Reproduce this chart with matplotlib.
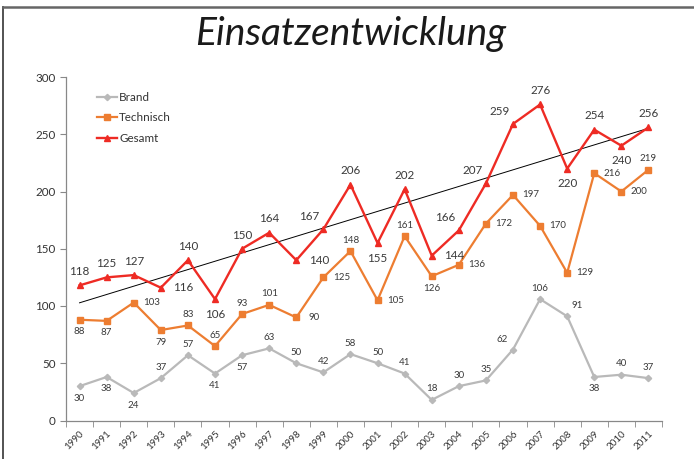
import matplotlib
matplotlib.use("Agg")
import matplotlib.pyplot as plt
import numpy as np
from matplotlib.lines import Line2D

plt.rcParams['font.family'] = ['Lato', 'DejaVu Sans']

years = [str(y) for y in range(1990, 2012)]
brand = [30, 38, 24, 37, 57, 41, 57, 63, 50, 42, 58, 50, 41, 18, 30, 35, 62, 106, 91, 38, 40, 37]
technisch = [88, 87, 103, 79, 83, 65, 93, 101, 90, 125, 148, 105, 161, 126, 136, 172, 197, 170, 129, 216, 200, 219]
gesamt = [118, 125, 127, 116, 140, 106, 150, 164, 140, 167, 206, 155, 202, 144, 166, 207, 259, 276, 220, 254, 240, 256]

# label placement codes (a=above, b=below, r=right, l=above-left, q=above-right)
pos_g = ['a', 'a', 'a', 'r', 'a', 'b', 'a', 'a', 'r', 'l', 'a', 'b', 'a', 'r', 'l', 'l', 'l', 'a', 'b', 'a', 'b', 'a']
pos_t = ['b', 'b', 'r', 'b', 'a', 'a', 'a', 'a', 'r', 'r', 'a', 'r', 'a', 'b', 'r', 'r', 'r', 'r', 'r', 'r', 'r', 'a']
pos_b = ['b', 'b', 'b', 'a', 'a', 'b', 'b', 'a', 'a', 'a', 'a', 'a', 'a', 'a', 'a', 'a', 'l', 'a', 'q', 'b', 'a', 'a']

c_brand = '#b9b9b9'
c_tech = '#ed7d31'
c_ges = '#ee2b24'

fig = plt.figure(figsize=(6.94, 4.59), dpi=100)
ax = fig.add_axes([66/694, 1-420.5/459, (662-66)/694, (420.5-77)/459])

x = np.arange(len(years))
ax.plot(x, brand, color=c_brand, lw=1.6, marker='D', ms=3.2, label='Brand')
ax.plot(x, technisch, color=c_tech, lw=1.6, marker='s', ms=5, label='Technisch')
ax.plot(x, gesamt, color=c_ges, lw=1.7, marker='^', ms=4.5, label='Gesamt')

# linear trend of Gesamt
k, d = np.polyfit(x, gesamt, 1)
ax.plot(x, k*x + d, color='black', lw=0.7, zorder=1)

def offsets(code, big):
    s = 1.25 if big else 1.0
    return {'a': (0, 11*s), 'b': (0, -12*s), 'r': (18*s, 0),
            'l': (-11*s, 10*s), 'q': (10*s, 11*s)}[code]

for series, codes, big, fs in [(gesamt, pos_g, True, 8.4), (technisch, pos_t, False, 7.0), (brand, pos_b, False, 7.0)]:
    for xi, v, c in zip(x, series, codes):
        dx, dy = offsets(c, big)
        ax.annotate(str(v), (xi, v), xytext=(dx, dy), textcoords='offset pixels',
                    ha='center', va='center', fontsize=fs, color='#3a3a3a')

ax.set_xlim(-0.5, len(years)-0.5)
ax.set_ylim(0, 300)
ax.set_yticks([0, 50, 100, 150, 200, 250, 300])
ax.tick_params(axis='y', labelsize=8.4, colors='#888888', labelcolor='#333333', length=4, direction='out')
ax.set_xticks(x)
ax.set_xticklabels(years, rotation=45, ha='right', va='top', rotation_mode='anchor', fontsize=7.0, color='#333333')
ax.tick_params(axis='x', which='major', length=0, pad=6)
ax.set_xticks(np.arange(-0.5, len(years)), minor=True)
ax.tick_params(axis='x', which='minor', length=4, colors='#888888', direction='out')
for s in ['top', 'right']:
    ax.spines[s].set_visible(False)
for s in ['left', 'bottom']:
    ax.spines[s].set_color('#888888')
    ax.spines[s].set_linewidth(0.9)

leg = ax.legend(loc='upper left', bbox_to_anchor=(0.045, 0.97), frameon=False, fontsize=8.4,
                handlelength=1.7, handletextpad=0.15, labelspacing=0.8, borderaxespad=0)
for t in leg.get_texts():
    t.set_color('#333333')

fig.text(0.505, 0.925, 'Einsatzentwicklung', ha='center', va='center', fontsize=28,
         style='italic', fontweight='normal', color='#1a1a1a')

# outer frame (top and left edges)
fig.add_artist(Line2D([3/694, 3/694], [0, 1-7/459], transform=fig.transFigure, color='#444444', lw=1.3))
fig.add_artist(Line2D([3/694, 1], [1-7/459, 1-7/459], transform=fig.transFigure, color='#666666', lw=1.8))

fig.savefig('out.png', dpi=100)
